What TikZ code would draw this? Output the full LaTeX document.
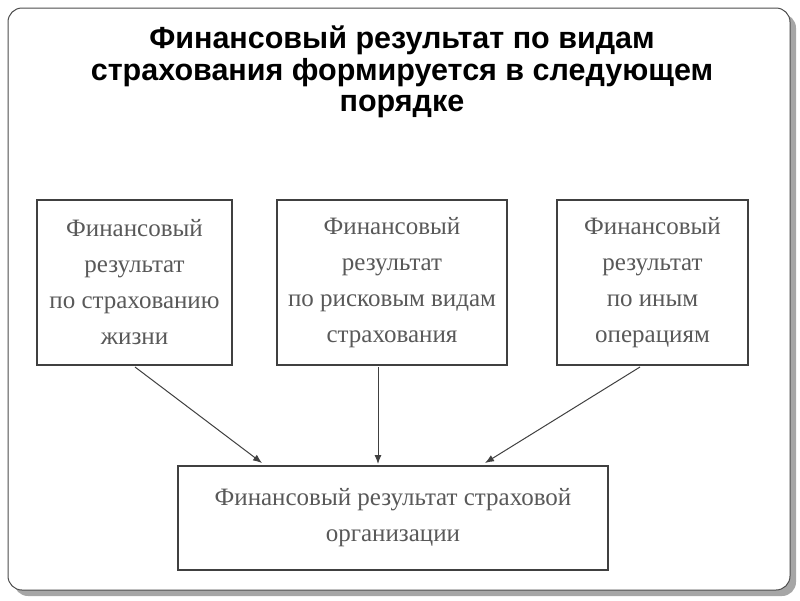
\documentclass[tikz,border=0pt]{standalone}
\usepackage{fontspec}
\usetikzlibrary{arrows.meta}
\setmainfont{Liberation Serif}
\newfontfamily\titlefont{Liberation Sans}
\begin{document}
\begin{tikzpicture}[x=1pt,y=-1pt,
  box/.style={draw=black!75,line width=1.6pt,inner sep=0pt,align=center,text=black!65,font=\fontsize{25}{36}\selectfont},
  arr/.style={draw=black!75,line width=1pt,-{Latex[length=9pt,width=7pt]}}]
\useasboundingbox (0,0) rectangle (800,600);
\fill[black!35,rounded corners=14pt] (14,14) rectangle (796,596);
\draw[black!70,fill=white,line width=1pt,rounded corners=14pt] (8,8) rectangle (790,590);
\node[font=\titlefont\bfseries\fontsize{30.5}{31.5}\selectfont,align=center] (title) at (402,72)
  {Финансовый результат по видам\\страхования формируется в следующем\\порядке};
\node[box,minimum width=195pt,minimum height=165pt] (b1) at (134.5,282.5) {Финансовый\\результат\\по страхованию\\жизни};
\node[box,minimum width=230pt,minimum height=165pt] (b2) at (392,282.5) {Финансовый\\результат\\по рисковым видам\\страхования};
\node[box,minimum width=191pt,minimum height=165pt] (b3) at (652.5,282.5) {Финансовый\\результат\\по иным\\операциям};
\node[box,minimum width=430pt,minimum height=104pt] (b4) at (393,518) {Финансовый результат страховой\\организации};
\draw[arr] (135,367) -- (262,463);
\draw[arr] (378,367) -- (378,464);
\draw[arr] (640,367) -- (485,463);
\end{tikzpicture}
\end{document}
